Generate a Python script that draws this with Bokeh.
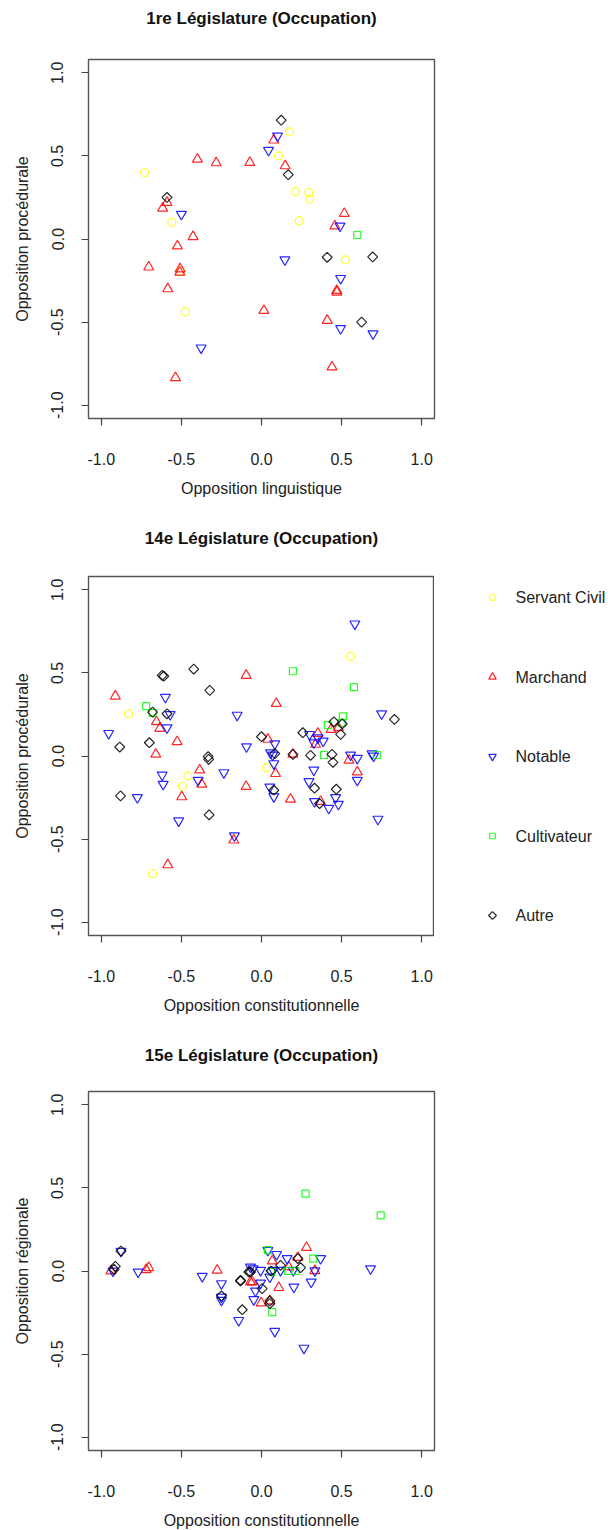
import math

from bokeh.plotting import figure
from bokeh.models import FixedTicker, NumeralTickFormatter, ColumnDataSource, Range1d
from bokeh.core.properties import value
from bokeh.layouts import column, row
from bokeh.embed import file_html
from bokeh.resources import INLINE

# ---------------------------------------------------------------- data
categories = ["Servant Civil", "Marchand", "Notable", "Cultivateur", "Autre"]
tick_values = [-1.0, -0.5, 0.0, 0.5, 1.0]

# 1re Législature : opposition linguistique (x) / procédurale (y)
l1_servant_x = [-0.73, -0.56, 0.175, 0.106, 0.21, 0.296, 0.30, 0.235, -0.506, -0.475, 0.523]
l1_servant_y = [0.40, 0.10, 0.645, 0.50, 0.285, 0.28, 0.24, 0.11, -0.197, -0.438, -0.125]
l1_marchand_x = [-0.40, -0.283, -0.073, -0.59, -0.617, -0.427, 0.077, 0.148, 0.517, 0.458,
                 -0.525, -0.704, -0.508, -0.51, -0.585, -0.537, 0.015, 0.47, 0.47, 0.41, 0.44]
l1_marchand_y = [0.48, 0.458, 0.46, 0.22, 0.185, 0.014, 0.595, 0.44, 0.153, 0.078,
                 -0.042, -0.169, -0.18, -0.20, -0.30, -0.835, -0.43, -0.31, -0.32, -0.49, -0.77]
l1_notable_x = [-0.50, 0.10, 0.044, 0.49, -0.377, 0.146, 0.494, 0.494, 0.696]
l1_notable_y = [0.149, 0.62, 0.534, 0.078, -0.655, -0.125, -0.237, -0.538, -0.57]
l1_cultivateur_x = [0.598]
l1_cultivateur_y = [0.024]
l1_autre_x = [-0.59, 0.123, 0.167, 0.41, 0.694, 0.625]
l1_autre_y = [0.25, 0.715, 0.387, -0.11, -0.108, -0.50]

# 14e Législature : opposition constitutionnelle (x) / procédurale (y)
l14_servant_x = [-0.83, 0.556, -0.46, -0.494, -0.68, 0.029]
l14_servant_y = [0.254, 0.60, -0.12, -0.182, -0.707, -0.07]
l14_marchand_x = [-0.9125, -0.656, -0.635, -0.527, -0.096, -0.66, -0.386, -0.373, -0.096, -0.498,
                  -0.173, -0.585, 0.092, 0.48, 0.435, 0.352, 0.3375, 0.04, 0.196, 0.546,
                  0.0875, 0.181, 0.369, 0.598]
l14_marchand_y = [0.36, 0.206, 0.166, 0.086, 0.485, 0.01, -0.084, -0.17, -0.184, -0.246,
                  -0.506, -0.655, 0.316, 0.17, 0.16, 0.136, 0.07, 0.10, 0.01, -0.026,
                  -0.106, -0.26, -0.274, -0.096]
l14_notable_x = [-0.60, -0.57, -0.59, -0.954, -0.152, -0.094, -0.62, -0.614, -0.396, -0.235,
                 -0.775, -0.517, -0.169, 0.583, 0.75, 0.30, 0.352, 0.327, 0.385, 0.083,
                 0.056, 0.556, 0.69, 0.07, 0.598, 0.077, 0.327, 0.296, 0.052, 0.077,
                 0.331, 0.42, 0.4625, 0.48, 0.598, 0.727, 0.70]
l14_notable_y = [0.354, 0.25, 0.17, 0.136, 0.246, 0.056, -0.114, -0.17, -0.146, -0.10,
                 -0.25, -0.39, -0.48, 0.795, 0.254, 0.13, 0.11, 0.08, 0.09, 0.074,
                 0.02, 0.006, 0.014, 0.006, -0.014, -0.046, -0.084, -0.154, -0.186, -0.244,
                 -0.274, -0.314, -0.25, -0.29, -0.146, -0.38, 0.0]
l14_cultivateur_x = [-0.72, -0.68, 0.196, 0.577, 0.508, 0.415, 0.39, 0.72, 0.50]
l14_cultivateur_y = [0.30, 0.26, 0.51, 0.414, 0.238, 0.186, 0.006, 0.006, 0.20]
l14_autre_x = [-0.68, -0.62, -0.61, -0.423, -0.323, -0.59, -0.885, -0.70, -0.333, -0.33,
               -0.88, -0.327, 0.83, 0.452, 0.494, 0.504, 0.258, 0.0, 0.083, 0.196,
               0.306, 0.44, 0.446, 0.331, 0.467, 0.077, 0.3625]
l14_autre_y = [0.264, 0.485, 0.48, 0.523, 0.395, 0.254, 0.054, 0.08, -0.004, -0.02,
               -0.24, -0.354, 0.22, 0.206, 0.13, 0.194, 0.14, 0.116, 0.014, 0.01,
               0.004, 0.01, -0.038, -0.194, -0.2, -0.206, -0.286]

# 15e Législature : opposition constitutionnelle (x) / régionale (y)
l15_servant_x = []
l15_servant_y = []
l15_marchand_x = [-0.94, -0.72, -0.704, -0.277, -0.069, 0.281, 0.067, 0.227, 0.333, 0.17,
                  -0.058, 0.108, -0.002, 0.052]
l15_marchand_y = [0.0, 0.008, 0.02, 0.004, -0.066, 0.141, 0.06, 0.081, 0.002, 0.024,
                  -0.066, -0.1, -0.193, -0.18]
l15_notable_x = [-0.877, -0.927, -0.77, -0.37, -0.25, -0.25, -0.25, -0.142, -0.069, 0.681,
                 0.04, 0.094, 0.16, 0.369, 0.333, -0.052, -0.006, 0.073, 0.119, 0.198,
                 -0.006, 0.052, -0.0375, -0.048, 0.202, 0.31, 0.083, 0.265]
l15_notable_y = [0.119, 0.0, -0.006, -0.032, -0.076, -0.157, -0.176, -0.297, 0.024, 0.014,
                 0.125, 0.1, 0.075, 0.075, 0.002, 0.014, 0.004, 0.004, 0.004, 0.004,
                 -0.072, -0.036, -0.12, -0.172, -0.096, -0.066, -0.363, -0.464]
l15_cultivateur_x = [0.275, 0.744, 0.04, 0.323, 0.06, 0.165, 0.2125, 0.067]
l15_cultivateur_y = [0.466, 0.335, 0.125, 0.075, -0.006, 0.0, 0.0, -0.247]
l15_autre_x = [-0.877, -0.9125, -0.92, -0.25, -0.131, -0.12, -0.079, 0.227, 0.244, 0.06,
               0.119, -0.069, -0.131, 0.004, 0.052, 0.052]
l15_autre_y = [0.12, 0.028, 0.01, -0.15, -0.06, -0.233, -0.006, 0.075, 0.02, 0.0,
               0.034, -0.006, -0.056, -0.106, -0.196, -0.18]

# ---------------------------------------------------------------- styling
FONT = "Liberation Sans"
FRAME_W, FRAME_H = 346, 359
LEFT, RIGHT = 88, 174
HEAD_H = 38
marker_style = {
    "Servant Civil": dict(marker="circle", size=8, color="#FFFF00", angle=0.0),
    "Marchand": dict(marker="triangle", size=10, color="#FF0000", angle=0.0),
    "Notable": dict(marker="inverted_triangle", size=10, color="#0000FF", angle=0.0),
    "Cultivateur": dict(marker="square", size=7, color="#00FF00", angle=0.0),
    "Autre": dict(marker="square", size=7, color="#000000", angle=math.pi / 4),
}


def bare(fig):
    fig.outline_line_color = None
    fig.xgrid.visible = False
    fig.ygrid.visible = False
    fig.background_fill_color = "white"
    fig.border_fill_color = "white"
    return fig


def make_heading(text, centre):
    """Bold heading strip, centred over the plotting frame below it."""
    h = bare(figure(frame_width=FRAME_W, frame_height=HEAD_H,
                    x_range=Range1d(-1.08, 1.08), y_range=Range1d(HEAD_H, 0),
                    min_border_left=LEFT, min_border_right=RIGHT,
                    min_border_top=0, min_border_bottom=0,
                    x_axis_location=None, y_axis_location=None,
                    output_backend="svg", toolbar_location=None))
    h.text(x=[0.0], y=[centre], text=[text], text_font=value(FONT),
           text_font_size="17px", text_font_style="bold", text_color="#111111",
           text_align="center", text_baseline="middle")
    return h


def make_panel(xlabel, ylabel, series, top, bottom, right):
    p = figure(frame_width=FRAME_W, frame_height=FRAME_H,
               x_range=(-1.08, 1.08), y_range=(-1.08, 1.08),
               min_border_left=LEFT, min_border_right=right,
               min_border_top=top, min_border_bottom=bottom,
               output_backend="svg", toolbar_location=None)
    p.background_fill_color = "white"
    p.border_fill_color = "white"
    p.xgrid.visible = False
    p.ygrid.visible = False
    p.outline_line_color = "#555555"
    p.outline_line_width = 1.4

    p.xaxis.axis_label = xlabel
    p.yaxis.axis_label = ylabel
    for ax in (p.xaxis[0], p.yaxis[0]):
        ax.ticker = FixedTicker(ticks=tick_values)
        ax.formatter = NumeralTickFormatter(format="0.0")
        ax.axis_line_color = None
        ax.major_tick_in = 0
        ax.major_tick_out = 7
        ax.major_tick_line_color = "#444444"
        ax.major_tick_line_width = 1.2
        ax.minor_tick_line_color = None
        ax.major_label_text_font = FONT
        ax.major_label_text_font_size = "16px"
        ax.major_label_text_color = "#222222"
        ax.axis_label_text_font = FONT
        ax.axis_label_text_font_size = "16px"
        ax.axis_label_text_font_style = "normal"
        ax.axis_label_text_color = "#222222"
    p.xaxis.major_label_standoff = 27
    p.xaxis.axis_label_standoff = 12
    p.yaxis.major_label_orientation = "vertical"
    p.yaxis.major_label_standoff = 18
    p.yaxis.axis_label_standoff = 18

    for cat in categories:
        xs, ys = series[cat]
        st = marker_style[cat]
        src = ColumnDataSource(dict(x=xs, y=ys))
        p.scatter("x", "y", source=src, marker=st["marker"], size=st["size"],
                  angle=st["angle"], line_color=st["color"], line_width=1.2,
                  line_alpha=0.85, fill_alpha=0)
    return p


def make_key(top, bottom, first_offset, pitch):
    """Category key drawn in its own strip to the right of the middle panel."""
    k = bare(figure(frame_width=RIGHT, frame_height=FRAME_H,
                    x_range=Range1d(0, RIGHT), y_range=Range1d(FRAME_H, 0),
                    min_border_left=0, min_border_right=0,
                    min_border_top=top, min_border_bottom=bottom,
                    x_axis_location=None, y_axis_location=None,
                    output_backend="svg", toolbar_location=None))
    ys = [first_offset + i * pitch for i in range(len(categories))]
    key_sizes = {"circle": 6, "triangle": 7.5, "inverted_triangle": 7.5, "square": 5.5}
    for i, cat in enumerate(categories):
        st = marker_style[cat]
        k.scatter([58], [ys[i]], marker=st["marker"], size=key_sizes[st["marker"]],
                  angle=st["angle"], line_color=st["color"], line_width=1.2,
                  line_alpha=0.85, fill_alpha=0)
    k.text(x=[81] * len(categories), y=ys, text=categories,
           text_font=value(FONT), text_font_size="16px", text_color="#222222",
           text_baseline="middle", text_align="left")
    return k


h1 = make_heading("1re Législature (Occupation)", centre=18)
p1 = make_panel("Opposition linguistique", "Opposition procédurale",
                {"Servant Civil": (l1_servant_x, l1_servant_y),
                 "Marchand": (l1_marchand_x, l1_marchand_y),
                 "Notable": (l1_notable_x, l1_notable_y),
                 "Cultivateur": (l1_cultivateur_x, l1_cultivateur_y),
                 "Autre": (l1_autre_x, l1_autre_y)},
                top=21, bottom=100, right=RIGHT)

h2 = make_heading("14e Législature (Occupation)", centre=20)
p2 = make_panel("Opposition constitutionnelle", "Opposition procédurale",
                {"Servant Civil": (l14_servant_x, l14_servant_y),
                 "Marchand": (l14_marchand_x, l14_marchand_y),
                 "Notable": (l14_notable_x, l14_notable_y),
                 "Cultivateur": (l14_cultivateur_x, l14_cultivateur_y),
                 "Autre": (l14_autre_x, l14_autre_y)},
                top=20, bottom=98, right=0)
key = make_key(top=20, bottom=98, first_offset=21, pitch=79.5)

h3 = make_heading("15e Législature (Occupation)", centre=22)
p3 = make_panel("Opposition constitutionnelle", "Opposition régionale",
                {"Servant Civil": (l15_servant_x, l15_servant_y),
                 "Marchand": (l15_marchand_x, l15_marchand_y),
                 "Notable": (l15_notable_x, l15_notable_y),
                 "Cultivateur": (l15_cultivateur_x, l15_cultivateur_y),
                 "Autre": (l15_autre_x, l15_autre_y)},
                top=20, bottom=80, right=RIGHT)

layout = column(h1, p1, h2, row(p2, key, spacing=0), h3, p3, spacing=0)
open("out.html", "w").write(file_html(layout, INLINE))
